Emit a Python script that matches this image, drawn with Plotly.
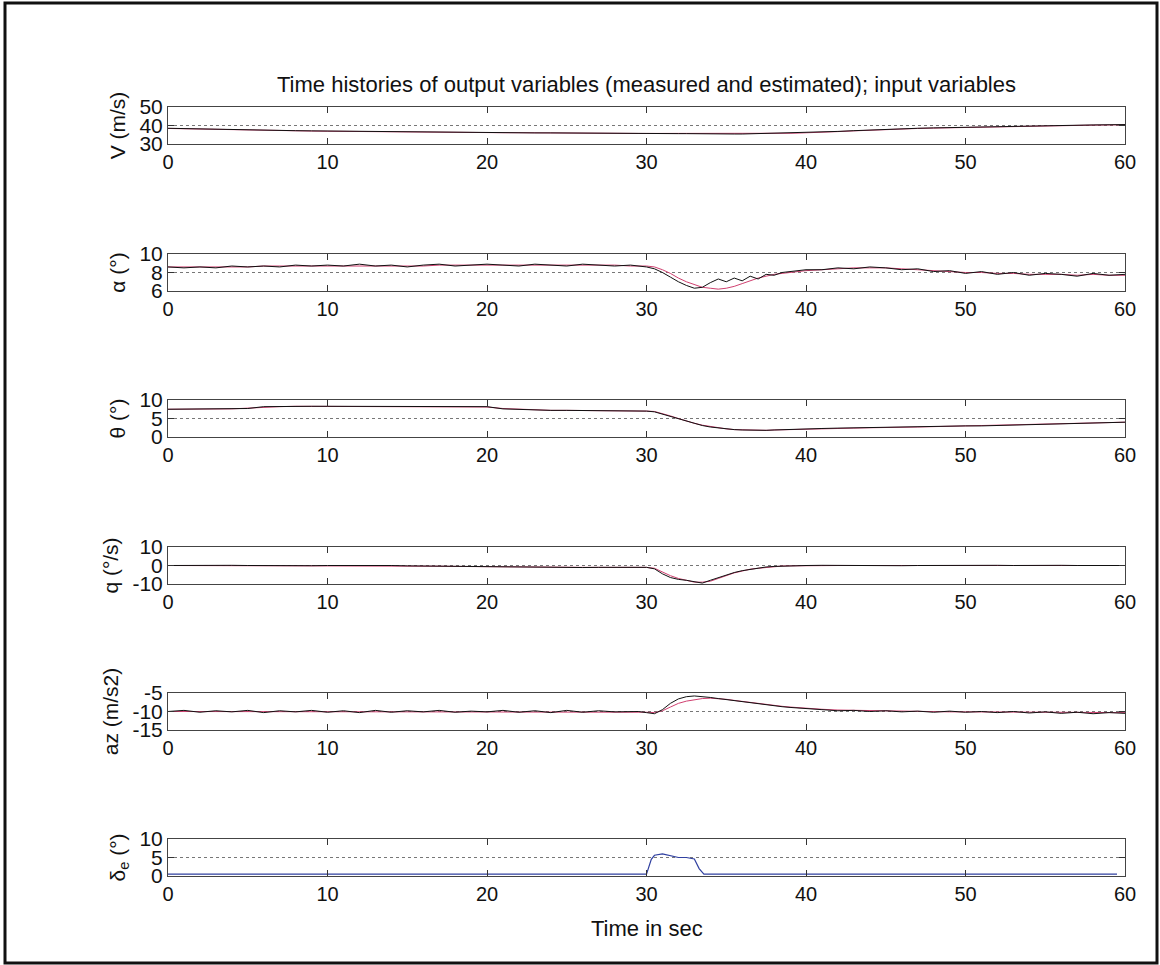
import plotly.graph_objects as go

# ---------------- data ----------------
t = [0, 1, 2, 3, 4, 5, 6, 7, 8, 9, 10, 11, 12, 13, 14, 15, 16, 17, 18, 19,
     20, 21, 22, 23, 24, 25, 26, 27, 28, 29,
     29.5, 30, 30.5, 31, 31.5, 32, 32.5, 33, 33.5, 34, 34.5, 35, 35.5, 36,
     36.5, 37, 37.5, 38, 38.5, 39, 39.5, 40,
     41, 42, 43, 44, 45, 46, 47, 48, 49, 50, 51, 52, 53, 54, 55, 56, 57, 58, 59, 60]

V_meas = [38.5, 38.3, 38.0, 37.8, 37.6, 37.5, 37.4, 37.3, 37.2, 37.1, 37.0, 36.9, 36.8, 36.8, 36.7,
          36.6, 36.5, 36.5, 36.4, 36.3, 36.2, 36.2, 36.1, 36.0, 36.0, 35.9, 35.9, 35.8, 35.8, 35.8,
          35.8, 35.8, 35.7, 35.7, 35.6, 35.6, 35.6, 35.5, 35.5, 35.5, 35.4, 35.4, 35.4, 35.4,
          35.5, 35.5, 35.6, 35.7, 35.8, 35.9, 36.0, 36.1,
          36.4, 36.8, 37.2, 37.6, 38.0, 38.2, 38.5, 38.7, 38.9, 39.1, 39.3, 39.5, 39.7, 39.8,
          40.0, 40.1, 40.2, 40.3, 40.4, 40.5]
V_est = [38.4, 38.2, 38.0, 37.8, 37.6, 37.4, 37.3, 37.2, 37.1, 37.0, 36.9, 36.8, 36.8, 36.7, 36.6,
         36.5, 36.5, 36.4, 36.3, 36.3, 36.2, 36.1, 36.1, 36.0, 35.9, 35.9, 35.8, 35.8, 35.8, 35.7,
         35.7, 35.7, 35.7, 35.6, 35.6, 35.6, 35.5, 35.5, 35.5, 35.4, 35.4, 35.4, 35.4, 35.4,
         35.4, 35.5, 35.5, 35.6, 35.7, 35.8, 35.9, 36.0,
         36.3, 36.7, 37.1, 37.5, 37.9, 38.2, 38.4, 38.6, 38.8, 39.0, 39.2, 39.4, 39.6, 39.8,
         39.9, 40.0, 40.1, 40.2, 40.3, 40.4]

alpha_meas = [8.6, 8.5, 8.6, 8.5, 8.7, 8.6, 8.7, 8.6, 8.8, 8.7, 8.8, 8.7, 8.9, 8.7, 8.8,
              8.6, 8.8, 8.9, 8.7, 8.8, 8.9, 8.8, 8.7, 8.9, 8.8, 8.7, 8.9, 8.8, 8.7, 8.8,
              8.7, 8.6, 8.4, 8.0, 7.5, 7.0, 6.6, 6.3, 6.4, 6.9, 7.3, 7.0, 7.4, 7.1,
              7.6, 7.3, 7.8, 7.7, 8.0, 8.1, 8.2, 8.3,
              8.3, 8.5, 8.4, 8.6, 8.5, 8.3, 8.4, 8.1, 8.2, 7.9, 8.1, 7.8, 8.0, 7.7,
              7.9, 7.8, 7.6, 7.9, 7.7, 7.8]
alpha_est = [8.6, 8.6, 8.6, 8.6, 8.6, 8.6, 8.7, 8.7, 8.7, 8.7, 8.7, 8.7, 8.7, 8.7, 8.7,
             8.7, 8.7, 8.8, 8.8, 8.8, 8.8, 8.8, 8.8, 8.8, 8.8, 8.8, 8.8, 8.8, 8.8, 8.7,
             8.7, 8.7, 8.6, 8.3, 7.9, 7.4, 7.0, 6.7, 6.4, 6.3, 6.2, 6.3, 6.5, 6.8,
             7.1, 7.4, 7.6, 7.8, 7.9, 8.0, 8.1, 8.2,
             8.3, 8.4, 8.5, 8.5, 8.5, 8.4, 8.3, 8.2, 8.1, 8.0, 8.0, 7.9, 7.9, 7.8,
             7.8, 7.8, 7.7, 7.8, 7.7, 7.7]

theta_meas = [7.5, 7.5, 7.5, 7.5, 7.6, 7.7, 8.2, 8.3, 8.3, 8.3, 8.3, 8.3, 8.3, 8.3, 8.3,
              8.3, 8.3, 8.3, 8.3, 8.3, 8.2, 7.6, 7.4, 7.3, 7.2, 7.2, 7.2, 7.2, 7.1, 7.1,
              7.1, 7.0, 6.8, 6.2, 5.5, 4.8, 4.2, 3.6, 3.1, 2.7, 2.4, 2.2, 2.0, 1.9,
              1.8, 1.8, 1.8, 1.9, 2.0, 2.0, 2.1, 2.1,
              2.3, 2.4, 2.5, 2.5, 2.5, 2.6, 2.7, 2.8, 2.9, 3.0, 3.0, 3.1, 3.1, 3.2,
              3.3, 3.5, 3.6, 3.8, 3.9, 4.0]
theta_est = [7.5, 7.5, 7.5, 7.5, 7.6, 7.8, 8.1, 8.2, 8.3, 8.3, 8.3, 8.3, 8.3, 8.3, 8.3,
             8.3, 8.3, 8.3, 8.3, 8.3, 8.1, 7.7, 7.5, 7.3, 7.2, 7.2, 7.2, 7.1, 7.1, 7.1,
             7.1, 7.0, 6.9, 6.4, 5.7, 5.0, 4.3, 3.7, 3.2, 2.8, 2.5, 2.2, 2.0, 1.9,
             1.8, 1.8, 1.8, 1.9, 1.9, 2.0, 2.1, 2.1,
             2.2, 2.4, 2.4, 2.5, 2.5, 2.6, 2.7, 2.8, 2.9, 2.9, 3.0, 3.0, 3.1, 3.2,
             3.3, 3.4, 3.6, 3.7, 3.9, 4.0]

q_meas = [0.0, 0.1, -0.1, 0.0, 0.1, 0.0, -0.1, 0.0, 0.1, -0.1, 0.0, 0.1, -0.1, 0.0, 0.0,
          -0.2, -0.3, -0.3, -0.5, -0.6, -0.8, -0.9, -1.0, -1.0, -1.1, -1.0, -1.1, -1.0, -1.0, -0.9,
          -1.0, -1.0, -1.8, -4.5, -6.5, -7.5, -8.0, -8.8, -9.5, -8.0, -6.5, -5.0, -3.8, -2.8,
          -2.0, -1.3, -0.8, -0.5, -0.3, -0.2, -0.1, 0.0,
          0.1, 0.0, -0.1, 0.1, 0.0, -0.1, 0.0, 0.1, 0.0, -0.1, 0.0, 0.1, 0.0, -0.1,
          0.0, 0.1, 0.0, -0.1, 0.0, 0.0]
q_est = [0.0, 0.0, 0.0, 0.0, 0.0, 0.0, 0.0, 0.0, 0.0, 0.0, 0.0, 0.0, 0.0, 0.0, 0.0,
         -0.2, -0.3, -0.4, -0.5, -0.6, -0.8, -0.9, -1.0, -1.0, -1.0, -1.0, -1.0, -1.0, -1.0, -1.0,
         -1.0, -1.0, -1.5, -3.5, -5.5, -7.0, -8.0, -9.0, -9.0, -8.5, -7.0, -5.5, -4.0, -3.0,
         -2.0, -1.5, -1.0, -0.6, -0.3, -0.2, -0.1, 0.0,
         0.0, 0.0, 0.0, 0.0, 0.0, 0.0, 0.0, 0.0, 0.0, 0.0, 0.0, 0.0, 0.0, 0.0,
         0.0, 0.0, 0.0, 0.0, 0.0, 0.0]

az_meas = [-10.0, -9.7, -10.2, -9.8, -10.1, -9.7, -10.3, -9.8, -10.1, -9.7, -10.2, -9.8, -10.3, -9.7, -10.2,
           -9.8, -10.1, -9.7, -10.2, -9.9, -10.1, -9.7, -10.2, -9.8, -10.3, -9.7, -10.2, -9.8, -10.1, -9.9,
           -10.0, -10.3, -10.6, -9.5, -7.8, -6.6, -6.0, -5.8, -5.9, -6.2, -6.5, -6.8, -7.1, -7.4,
           -7.7, -8.0, -8.3, -8.5, -8.7, -8.9, -9.1, -9.3,
           -9.5, -9.8, -9.7, -10.0, -9.8, -10.1, -9.9, -10.2, -9.9, -10.2, -10.0, -10.3, -10.0, -10.4,
           -10.1, -10.5, -10.2, -10.6, -10.3, -10.5]
az_est = [-10.0, -10.0, -10.0, -10.0, -10.0, -10.0, -10.0, -10.0, -10.0, -10.0, -10.0, -10.0, -10.0, -10.0, -10.0,
          -10.0, -10.0, -10.0, -10.0, -10.0, -10.0, -10.0, -10.0, -10.0, -10.0, -10.0, -10.0, -10.0, -10.0, -10.0,
          -10.0, -10.2, -10.3, -9.8, -8.8, -7.8, -7.2, -6.8, -6.5, -6.4, -6.5, -6.7, -7.0, -7.3,
          -7.6, -7.9, -8.2, -8.4, -8.6, -8.8, -9.0, -9.2,
          -9.4, -9.6, -9.7, -9.8, -9.9, -10.0, -10.0, -10.0, -10.1, -10.1, -10.1, -10.1, -10.2, -10.2,
          -10.2, -10.2, -10.3, -10.3, -10.3, -10.3]

de_t = [0, 10, 20, 29.5, 30, 30.3, 30.5, 31, 31.5, 32, 32.5, 33, 33.3, 33.6, 40, 50, 59.5]
de_val = [0.5, 0.5, 0.5, 0.5, 0.5, 4.5, 5.6, 6.0, 5.4, 5.0, 5.0, 4.6, 2.0, 0.5, 0.5, 0.5, 0.5]

y_labels = ["V (m/s)", "α (°)", "θ (°)", "q (°/s)", "az (m/s2)", "δ<sub>e</sub> (°)"]
y_ranges = [[30, 50], [6, 10], [0, 10], [-10, 10], [-15, -5], [0, 10]]
y_ticks = [[30, 40, 50], [6, 8, 10], [0, 5, 10], [-10, 0, 10], [-15, -10, -5], [0, 5, 10]]
ref_levels = [40, 8, 5, 0, -10, 5]
x_ticks = [0, 10, 20, 30, 40, 50, 60]

title_text = "Time histories of output variables (measured and estimated); input variables"
xlabel_text = "Time in sec"

# ---------------- layout geometry ----------------
W, H = 1160, 965
ML, MR, MT, MB = 168, 35, 107, 88
area_h = H - MT - MB
tops_px = [107, 254, 400, 547, 693, 839]
panel_h = 37

FONT = "Liberation Sans, Arial, Helvetica, sans-serif"
fig = go.Figure()

meas = [V_meas, alpha_meas, theta_meas, q_meas, az_meas]
est = [V_est, alpha_est, theta_est, q_est, az_est]

for i in range(6):
    xa = "x" if i == 0 else f"x{i+1}"
    ya = "y" if i == 0 else f"y{i+1}"
    # dotted reference line
    fig.add_trace(go.Scatter(x=[x_ticks[0], x_ticks[-1]], y=[ref_levels[i], ref_levels[i]],
                             mode="lines", line=dict(color="#777777", width=1, dash="dot"),
                             xaxis=xa, yaxis=ya, showlegend=False, hoverinfo="skip"))
    if i < 5:
        fig.add_trace(go.Scatter(x=t, y=est[i], mode="lines",
                                 line=dict(color="#d04070", width=1),
                                 xaxis=xa, yaxis=ya, showlegend=False))
        fig.add_trace(go.Scatter(x=t, y=meas[i], mode="lines",
                                 line=dict(color="#111111", width=1),
                                 xaxis=xa, yaxis=ya, showlegend=False))
    else:
        fig.add_trace(go.Scatter(x=de_t, y=de_val, mode="lines",
                                 line=dict(color="#3040a0", width=1.2),
                                 xaxis=xa, yaxis=ya, showlegend=False))

    top = tops_px[i]
    bot = top + panel_h
    dom = [1 - (bot - MT) / area_h, 1 - (top - MT) / area_h]
    axis_common = dict(showline=True, linecolor="#444444", linewidth=1, mirror="ticks",
                       ticks="inside", ticklen=6, tickcolor="#333333", showgrid=False,
                       zeroline=False)
    fig.layout[("xaxis" if i == 0 else f"xaxis{i+1}")] = dict(
        domain=[0, 1], anchor=ya, range=[0, 60], tickvals=x_ticks,
        ticktext=[str(v) for v in x_ticks],
        tickfont=dict(family=FONT, size=20, color="#111111"), **axis_common)
    fig.layout[("yaxis" if i == 0 else f"yaxis{i+1}")] = dict(
        domain=dom, anchor=xa, range=y_ranges[i], tickvals=y_ticks[i],
        ticktext=[str(v) for v in y_ticks[i]],
        tickfont=dict(family=FONT, size=21, color="#111111"),
        title=dict(text=y_labels[i], font=dict(family=FONT, size=21, color="#111111"), standoff=8),
        **axis_common)

# title and x label as annotations
fig.add_annotation(text=title_text, xref="paper", yref="paper", x=0.5,
                   y=1 - (84 - MT) / area_h, showarrow=False, yanchor="middle",
                   font=dict(family=FONT, size=22, color="#111111"))
fig.add_annotation(text=xlabel_text, xref="paper", yref="paper", x=0.5,
                   y=1 - (928 - MT) / area_h, showarrow=False, yanchor="middle",
                   font=dict(family=FONT, size=22, color="#111111"))

# outer frame
fig.add_shape(type="rect", xref="paper", yref="paper",
              x0=(5 - ML) / (W - ML - MR), x1=(1157 - ML) / (W - ML - MR),
              y0=1 - (963 - MT) / area_h, y1=1 - (3 - MT) / area_h,
              line=dict(color="#111111", width=3), fillcolor="rgba(0,0,0,0)", layer="above")

fig.update_layout(width=W, height=H, margin=dict(l=ML, r=MR, t=MT, b=MB),
                  paper_bgcolor="white", plot_bgcolor="white", showlegend=False)

fig.write_html("out.html")
